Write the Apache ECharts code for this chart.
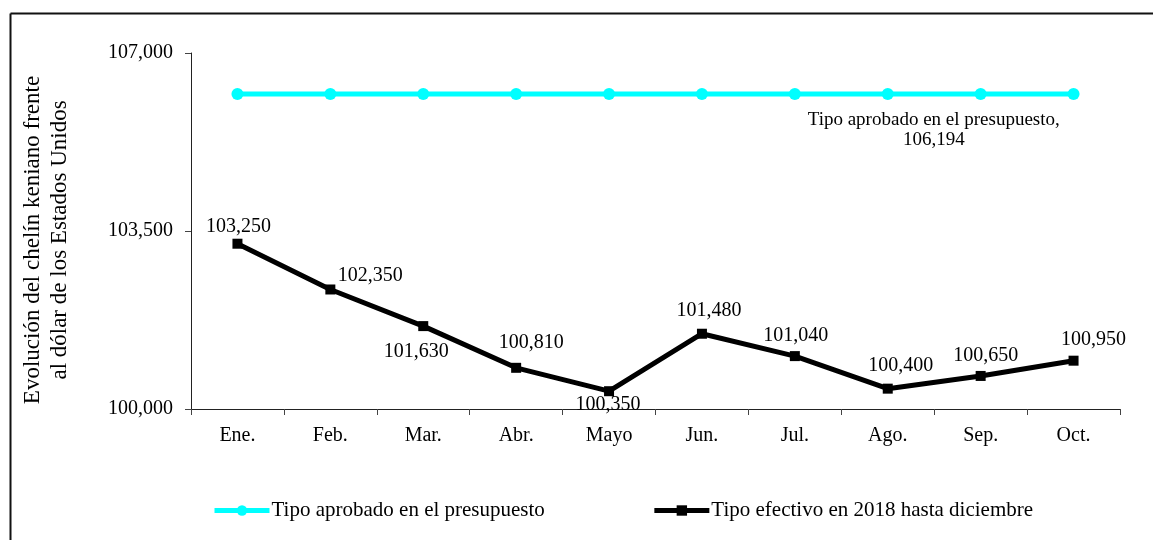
<!DOCTYPE html>
<html>
<head>
<meta charset="utf-8">
<script src="https://cdn.jsdelivr.net/npm/echarts@6/dist/echarts.min.js"></script>
<style>
	html, body { margin: 0; padding: 0; background: #fff; }
	#chart { width: 1153px; height: 540px; }
</style>
</head>
<body>
<div id="chart"></div>
<script>
// categorías (meses)
const months = ['Ene.', 'Feb.', 'Mar.', 'Abr.', 'Mayo', 'Jun.', 'Jul.', 'Ago.', 'Sep.', 'Oct.'];

// tipo aprobado en el presupuesto
const budgetName = 'Tipo aprobado en el presupuesto';
const budgetRate = [106194, 106194, 106194, 106194, 106194, 106194, 106194, 106194, 106194, 106194];

// tipo efectivo
const actualName = 'Tipo efectivo en 2018 hasta diciembre';
const actualRate = [103250, 102350, 101630, 100810, 100350, 101480, 101040, 100400, 100650, 100950];

// marcas del eje Y
const yTicks = [100000, 103500, 107000];

// desplazamiento de las etiquetas (px, respecto al punto)
const labelOffsets = [[1, -17], [40, -14], [-7, 26], [15, -25], [-1, 14], [7, -23], [1, -20], [13, -23], [5, -20], [20, -21]];

const fmt = v => v.toLocaleString('en-US');
const FONT = '"Liberation Serif", "Times New Roman", serif';

const budgetData = budgetRate.map((v, i) => {
	if (i !== 7) return v;
	return {
		value: v,
		label: {
			show: true,
			position: 'inside',
			offset: [46, 36],
			color: '#000',
			fontSize: 19,
			fontFamily: FONT,
			lineHeight: 20,
			formatter: () => budgetName + ',\n' + fmt(v)
		}
	};
});

const actualData = actualRate.map((v, i) => ({
	value: v,
	label: { offset: labelOffsets[i] }
}));

const chart = echarts.init(document.getElementById('chart'));

chart.setOption({
	animation: false,
	textStyle: { fontFamily: FONT },
	grid: { left: 191, right: 33, top: 53, bottom: 131 },
	legend: {
		left: 207,
		top: 495,
		itemWidth: 55,
		itemHeight: 13,
		itemGap: 107,
		lineStyle: { width: 5 },
		textStyle: { fontSize: 21, fontFamily: FONT, color: '#000', padding: [0, 0, 0, -3] },
		data: [budgetName, actualName]
	},
	xAxis: {
		type: 'category',
		data: months,
		boundaryGap: true,
		axisLine: { lineStyle: { color: '#222', width: 1 } },
		axisTick: { show: true, length: 6, interval: 0, lineStyle: { color: '#444' } },
		axisLabel: { fontSize: 20, fontFamily: FONT, color: '#000', margin: 17, interval: 0 }
	},
	yAxis: {
		type: 'value',
		min: yTicks[0],
		max: yTicks[yTicks.length - 1],
		interval: yTicks[1] - yTicks[0],
		splitLine: { show: false },
		axisLine: { show: true, lineStyle: { color: '#222', width: 1 } },
		axisTick: { show: true, length: 6, lineStyle: { color: '#444' } },
		axisLabel: { fontSize: 20, fontFamily: FONT, color: '#000', margin: 18, formatter: v => fmt(v) }
	},
	graphic: [
		{
			type: 'line',
			shape: { x1: 10.5, y1: 13.5, x2: 1153, y2: 13.5 },
			style: { stroke: '#111', lineWidth: 2 }
		},
		{
			type: 'line',
			shape: { x1: 10.5, y1: 13.5, x2: 10.5, y2: 540 },
			style: { stroke: '#111', lineWidth: 2 }
		},
		{
			type: 'text',
			x: 46,
			y: 240,
			rotation: Math.PI / 2,
			style: {
				text: 'Evolución del chelín keniano frente\nal dólar de los Estados Unidos',
				font: '23px ' + FONT,
				fill: '#000',
				textAlign: 'center',
				textVerticalAlign: 'middle',
				lineHeight: 27
			}
		}
	],
	series: [
		{
			name: budgetName,
			type: 'line',
			data: budgetData,
			symbol: 'circle',
			symbolSize: 12,
			lineStyle: { color: '#00FFFF', width: 5 },
			itemStyle: { color: '#00FFFF' },
			z: 2
		},
		{
			name: actualName,
			type: 'line',
			data: actualData,
			symbol: 'rect',
			symbolSize: 10,
			lineStyle: { color: '#000', width: 5 },
			itemStyle: { color: '#000' },
			label: {
				show: true,
				position: 'inside',
				color: '#000',
				fontSize: 20,
				fontFamily: FONT,
				formatter: p => fmt(p.value)
			},
			z: 3
		}
	]
});
</script>
</body>
</html>
